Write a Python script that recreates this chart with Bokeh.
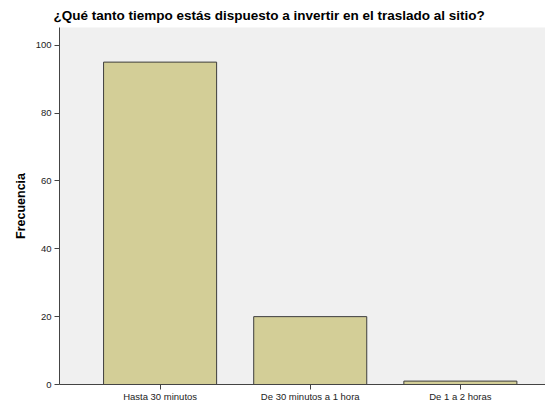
from bokeh.plotting import figure
from bokeh.models import FixedTicker, Range1d, ColumnDataSource
from bokeh.embed import file_html
from bokeh.resources import INLINE

categories = ["Hasta 30 minutos", "De 30 minutos a 1 hora", "De 1 a 2 horas"]
values = [95, 20, 1]
y_ticks = [0, 20, 40, 60, 80, 100]

xs = list(range(len(categories)))
src = ColumnDataSource(dict(x=xs, top=values))

p = figure(width=545, height=404, output_backend="svg", toolbar_location=None,
           x_range=Range1d(-0.67, 2.567), y_range=Range1d(0, 105.2),
           min_border_left=59, min_border_right=0, min_border_top=4, min_border_bottom=0)
p.title.text = "¿Qué tanto tiempo estás dispuesto a invertir en el traslado al sitio?"
p.title.text_font = "Liberation Sans"
p.title.text_font_size = "13.5px"
p.title.text_font_style = "bold"
p.title.text_color = "#000000"
p.title.align = "left"
p.title.offset = -6

p.background_fill_color = "#F0F0F0"
p.border_fill_color = "#FFFFFF"
p.outline_line_color = None
p.grid.visible = False

p.vbar(x="x", top="top", width=0.753, source=src, fill_color="#D3CE97",
       line_color="#3d3d3d", line_width=1)

p.yaxis.ticker = FixedTicker(ticks=y_ticks)
p.yaxis.minor_tick_line_color = None
p.yaxis.axis_label = "Frecuencia"
p.yaxis.axis_label_text_font = "Liberation Sans"
p.yaxis.axis_label_text_font_style = "bold"
p.yaxis.axis_label_text_font_size = "12.5px"
p.yaxis.axis_label_text_color = "#000000"
p.yaxis.axis_label_standoff = 5

p.xaxis.ticker = FixedTicker(ticks=xs)
p.xaxis.major_label_overrides = {i: c for i, c in enumerate(categories)}
p.xaxis.minor_tick_line_color = None

for ax in (p.xaxis, p.yaxis):
    ax.axis_line_color = "#444444"
    ax.major_tick_line_color = "#444444"
    ax.major_tick_out = 5
    ax.major_tick_in = 0
    ax.major_label_text_font = "Liberation Sans"
    ax.major_label_text_font_size = "9.5px"
    ax.major_label_text_color = "#222222"
p.yaxis.major_label_standoff = 3
p.xaxis.major_label_standoff = 1

open("out.html", "w").write(file_html(p, INLINE))
